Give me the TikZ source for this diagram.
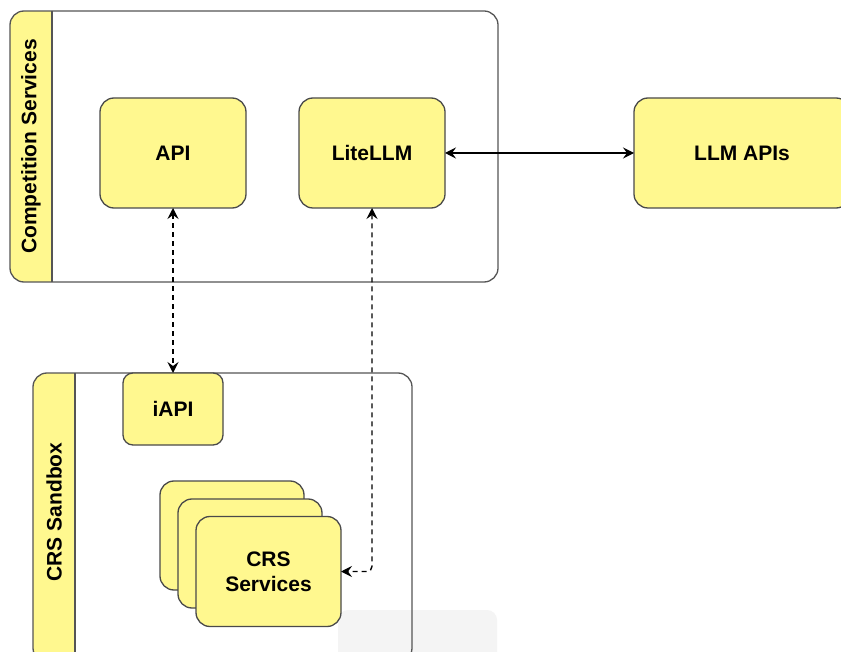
\documentclass[tikz,border=0pt]{standalone}
\usepackage{fontspec}
\setmainfont{Liberation Sans}
\usetikzlibrary{arrows.meta}
\definecolor{yel}{HTML}{FFF88F}
\definecolor{edgec}{HTML}{4A4A4A}
\definecolor{contc}{HTML}{555555}
\definecolor{faint}{HTML}{F4F4F4}
\begin{document}
\begin{tikzpicture}[x=1pt,y=-1pt,
  box/.style={draw=edgec, fill=yel, rounded corners=14pt, line width=1.3pt, outer sep=0pt, inner sep=2pt},
  lbl/.style={font=\bfseries\fontsize{21}{25}\selectfont, align=center, text=black},
  cont/.style={draw=contc, rounded corners=14pt, line width=1.3pt},
  tip/.style={line width=1.4pt, black, {Stealth[length=11pt,width=11pt,inset=4pt]}-{Stealth[length=11pt,width=11pt,inset=4pt]}},
  dsh/.style={tip, dash pattern=on 5pt off 4pt}]
\useasboundingbox (0,0) rectangle (841,652);
\fill[white] (0,0) rectangle (841,652);
% faint overlay
\fill[faint, rounded corners=10pt] (338,610) rectangle (497,670);
% Competition Services container
\begin{scope}
  \clip[rounded corners=14pt] (10,11) rectangle (498,282);
  \fill[yel] (10,11) rectangle (52,282);
\end{scope}
\draw[cont] (10,11) rectangle (498,282);
\draw[contc, line width=1.3pt] (52,11) -- (52,282);
\node[lbl, rotate=90] (cstitle) at (31,146.5) {Competition Services};
% CRS Sandbox container
\begin{scope}
  \clip[rounded corners=14pt] (33,373) rectangle (412,662);
  \fill[yel] (33,373) rectangle (75,662);
\end{scope}
\draw[cont] (33,373) rectangle (412,662);
\draw[contc, line width=1.3pt] (75,373) -- (75,662);
\node[lbl, rotate=90] (sbtitle) at (54,512) {CRS Sandbox};
% boxes
\node[box, lbl, minimum width=146pt, minimum height=110pt] (api) at (173,153) {API};
\node[box, lbl, minimum width=146pt, minimum height=110pt] (lite) at (372,153) {LiteLLM};
\node[box, lbl, minimum width=216pt, minimum height=110pt] (llm) at (742,153) {LLM APIs};
\node[box, lbl, rounded corners=10pt, minimum width=100pt, minimum height=72pt] (iapi) at (173,409) {iAPI};
\node[box, minimum width=144pt, minimum height=109pt] (crs3) at (232,535.5) {};
\node[box, minimum width=144pt, minimum height=109pt] (crs2) at (250,553.5) {};
\node[box, lbl, minimum width=145pt, minimum height=110pt] (crs) at (268.5,571.5) {CRS\\Services};
% connectors
\draw[tip] (lite.east) -- (llm.west);
\draw[dsh] (api.south) -- (iapi.north);
\draw[dsh, rounded corners=5pt] (lite.south) |- (crs.east);
\end{tikzpicture}
\end{document}
